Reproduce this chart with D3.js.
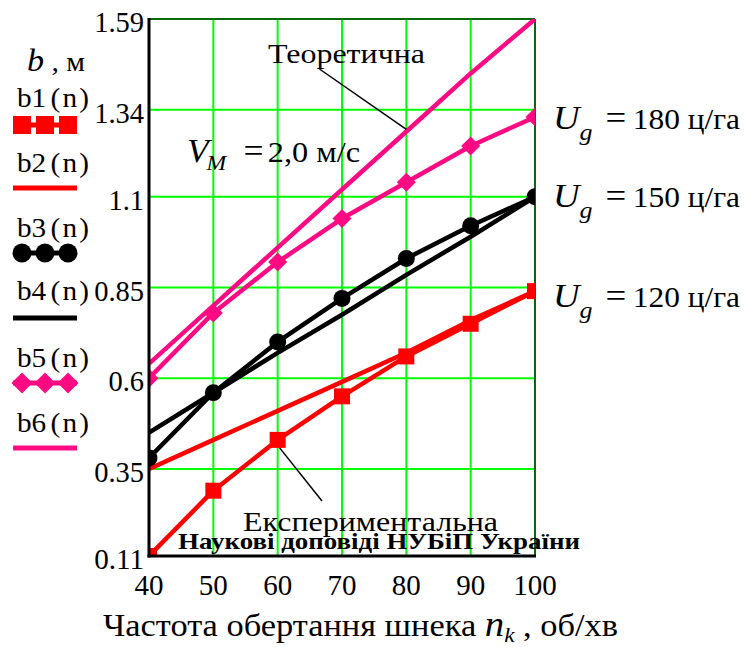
<!DOCTYPE html>
<html><head><meta charset="utf-8">
<script src="https://cdn.jsdelivr.net/npm/d3@7/dist/d3.min.js"></script>
</head>
<body style="margin:0">
<svg id="chart" width="744" height="647" style="display:block"></svg>
<script>
// ---- data ----
const nValues = [40, 50, 60, 70, 80, 90, 100];
const b1 = [0.11, 0.29, 0.43, 0.55, 0.66, 0.75, 0.84];   // Ug=120 experimental
const b2 = [0.35, 0.43, 0.51, 0.59, 0.67, 0.76, 0.84];   // Ug=120 theoretical
const b3 = [0.38, 0.56, 0.70, 0.82, 0.93, 1.02, 1.10];   // Ug=150 experimental
const b4 = [0.45, 0.56, 0.67, 0.775, 0.885, 0.99, 1.10]; // Ug=150 theoretical
const b5 = [0.60, 0.78, 0.92, 1.04, 1.14, 1.24, 1.32];   // Ug=180 experimental
const b6 = [0.64, 0.80, 0.96, 1.12, 1.28, 1.44, 1.59];   // Ug=180 theoretical
const yTickValues = [0.11, 0.35, 0.6, 0.85, 1.1, 1.34, 1.59];
const yTickLabels = ["0.11", "0.35", "0.6", "0.85", "1.1", "1.34", "1.59"];
const xTickValues = [40, 50, 60, 70, 80, 90, 100];
const xTickLabels = ["40", "50", "60", "70", "80", "90", "100"];
const legendNames = ["b1(n)", "b2(n)", "b3(n)", "b4(n)", "b5(n)", "b6(n)"];
const ugLabels = ["180", "150", "120"];

const FONT = '"Liberation Serif"';
const RED = "#ff0000", PINK = "#ff0a82", BLACK = "#000000", GREEN = "#00ff00";
const series = [
  {name: legendNames[0], data: b1, color: RED, marker: "square"},
  {name: legendNames[1], data: b2, color: RED, marker: null},
  {name: legendNames[2], data: b3, color: BLACK, marker: "circle"},
  {name: legendNames[3], data: b4, color: BLACK, marker: null},
  {name: legendNames[4], data: b5, color: PINK, marker: "diamond"},
  {name: legendNames[5], data: b6, color: PINK, marker: null}
];

const svg = d3.select("#chart");
const L = 149, R = 535, T = 19, B = 556;
const x = d3.scaleLinear().domain([40, 100]).range([L, R]);
const y = d3.scaleLinear().domain([0.11, 1.59]).range([B, T]);
const numWidth = (s, fs) => fs * s.split("").reduce((a, c) => a + (c === "." ? 0.25 : 0.5), 0);

svg.append("defs").append("clipPath").attr("id", "plotclip")
  .append("rect").attr("x", L).attr("y", T).attr("width", R - L).attr("height", B - T);

// grid
const grid = svg.append("g");
grid.selectAll(".vg").data(xTickValues.slice(1)).enter().append("line")
  .attr("x1", d => x(d)).attr("x2", d => x(d)).attr("y1", T).attr("y2", B)
  .attr("stroke", GREEN).attr("stroke-width", 2);
grid.selectAll(".hg").data(yTickValues.slice(1)).enter().append("line")
  .attr("x1", L).attr("x2", R).attr("y1", d => y(d)).attr("y2", d => y(d))
  .attr("stroke", GREEN).attr("stroke-width", 2);
svg.append("line").attr("x1", L).attr("x2", R).attr("y1", T).attr("y2", T).attr("stroke", "#0a3a0a").attr("stroke-width", 1.5);
svg.append("line").attr("x1", R).attr("x2", R).attr("y1", T).attr("y2", B).attr("stroke", "#0a3a0a").attr("stroke-width", 1.5);

// series
const plot = svg.append("g").attr("clip-path", "url(#plotclip)");
const line = d3.line().x((d, i) => x(nValues[i])).y(d => y(d));
function drawMarker(g, type, cx, cy, color, s) {
  if (type === "square") {
    g.append("rect").attr("x", cx - s).attr("y", cy - s).attr("width", 2 * s).attr("height", 2 * s).attr("fill", color);
  } else if (type === "circle") {
    g.append("circle").attr("cx", cx).attr("cy", cy).attr("r", s + 0.5).attr("fill", color);
  } else if (type === "diamond") {
    const h = s + 1.5;
    g.append("path").attr("d", `M${cx},${cy - h}L${cx + h},${cy}L${cx},${cy + h}L${cx - h},${cy}Z`).attr("fill", color);
  }
}
series.forEach(s => {
  plot.append("path").datum(s.data).attr("d", line).attr("fill", "none")
    .attr("stroke", s.color).attr("stroke-width", 4.5).attr("stroke-linejoin", "round");
});
series.forEach(s => {
  if (s.marker) s.data.forEach((v, i) => drawMarker(plot, s.marker, x(nValues[i]), y(v), s.color, 8));
});

svg.append("line").attr("x1", L).attr("x2", L).attr("y1", T - 1).attr("y2", B + 1.5).attr("stroke", "#000").attr("stroke-width", 3);
svg.append("line").attr("x1", L - 1.5).attr("x2", R + 1).attr("y1", B).attr("y2", B).attr("stroke", "#000").attr("stroke-width", 3);

// axes from d3 (ticks only), labels drawn as plain text positioned by the scales
const gx = svg.append("g").attr("transform", `translate(0,${B})`)
  .call(d3.axisBottom(x).tickValues(xTickValues).tickSize(0).tickFormat(""));
gx.select(".domain").remove();
gx.selectAll("text").remove();
const gy = svg.append("g").attr("transform", `translate(${L},0)`)
  .call(d3.axisLeft(y).tickValues(yTickValues).tickSize(0).tickFormat(""));
gy.select(".domain").remove();
gy.selectAll("text").remove();

const tickLayer = svg.append("g");
xTickValues.forEach((v, i) => {
  const w = numWidth(xTickLabels[i], 29);
  tickLayer.append("text").attr("x", x(v) - w / 2).attr("y", B + 39).attr("font-size", 29)
    .attr("textLength", w).attr("lengthAdjust", "spacingAndGlyphs").text(xTickLabels[i]);
});
yTickValues.forEach((v, i) => {
  const w = numWidth(yTickLabels[i], 28.5);
  tickLayer.append("text").attr("x", L - 5 - w).attr("y", y(v) + 13).attr("font-size", 28.5)
    .attr("textLength", w).attr("lengthAdjust", "spacingAndGlyphs").text(yTickLabels[i]);
});

// legend
const lg = svg.append("g");
const leg = lg.append("text").attr("x", 27).attr("y", 71).attr("font-size", 31)
  .attr("textLength", 58).attr("lengthAdjust", "spacingAndGlyphs");
leg.append("tspan").attr("font-style", "italic").text("b");
leg.append("tspan").attr("font-size", 27).text(" , м");
const legTextY = [107, 172, 237, 300, 367, 432];
const legSampleY = [125, 188, 253, 318, 383, 448];
series.forEach((s, i) => {
  const t = lg.append("text").attr("x", 17).attr("y", legTextY[i]).attr("font-size", 27)
    .attr("textLength", 72).attr("lengthAdjust", "spacingAndGlyphs");
  t.append("tspan").text(s.name.slice(0, 2));
  t.append("tspan").attr("dx", 4).text("(");
  t.append("tspan").attr("dx", 2).text("n");
  t.append("tspan").attr("dx", 2).text(")");
  lg.append("line").attr("x1", 13).attr("x2", 77).attr("y1", legSampleY[i]).attr("y2", legSampleY[i])
    .attr("stroke", s.color).attr("stroke-width", 5);
  if (s.marker) [22, 45, 68].forEach(cx => drawMarker(lg, s.marker, cx, legSampleY[i], s.color, 9));
});

// right labels
ugLabels.forEach((lab, i) => {
  const yy = [129, 207, 307][i];
  const t = svg.append("text").attr("x", 553).attr("y", yy).attr("font-size", 34)
    .attr("textLength", 187).attr("lengthAdjust", "spacingAndGlyphs");
  t.append("tspan").attr("font-style", "italic").text("U");
  t.append("tspan").attr("font-style", "italic").attr("font-size", 24).attr("dy", 11).attr("dx", 0).text("g");
  t.append("tspan").attr("dy", -11).attr("dx", 12).text("=");
  t.append("tspan").attr("dx", 6).attr("font-size", 29).text(lab + " ц/га");
});

// V_M label
const vt = svg.append("text").attr("x", 187).attr("y", 162).attr("font-size", 33)
  .attr("textLength", 173).attr("lengthAdjust", "spacingAndGlyphs");
vt.append("tspan").attr("font-style", "italic").text("V");
vt.append("tspan").attr("font-style", "italic").attr("font-size", 22).attr("dy", 8).attr("dx", -2).text("M");
vt.append("tspan").attr("dy", -8).attr("dx", 16).text("=");
vt.append("tspan").attr("dx", 4).attr("font-size", 30).text("2,0 м/с");

// annotations
svg.append("text").attr("x", 268).attr("y", 63).attr("font-size", 28).attr("textLength", 157).attr("lengthAdjust", "spacingAndGlyphs").text("Теоретична");
svg.append("line").attr("x1", x(66.5)).attr("y1", 69).attr("x2", x(80)).attr("y2", y(1.28) - 2).attr("stroke", "#000").attr("stroke-width", 1.5);
svg.append("text").attr("x", 243).attr("y", 531).attr("font-size", 28).attr("textLength", 255).attr("lengthAdjust", "spacingAndGlyphs").text("Експериментальна");
svg.append("line").attr("x1", x(60) + 2).attr("y1", y(0.43) + 8).attr("x2", 322).attr("y2", 501).attr("stroke", "#000").attr("stroke-width", 1.5);
svg.append("text").attr("x", 178).attr("y", 549).attr("font-size", 23).attr("font-weight", "bold")
  .attr("textLength", 402).attr("lengthAdjust", "spacingAndGlyphs").text("Наукові доповіді НУБіП України");

// x title
const xt = svg.append("text").attr("x", 103).attr("y", 636).attr("font-size", 31)
  .attr("textLength", 515).attr("lengthAdjust", "spacingAndGlyphs");
xt.append("tspan").text("Частота обертання шнека ");
xt.append("tspan").attr("font-style", "italic").attr("font-size", 35).text("n");
xt.append("tspan").attr("font-style", "italic").attr("font-size", 21).attr("dy", 6).text("k");
xt.append("tspan").attr("dy", -6).text(" , об/хв");

svg.selectAll("text").style("font-family", FONT).attr("fill", "#000");
</script>
</body></html>
